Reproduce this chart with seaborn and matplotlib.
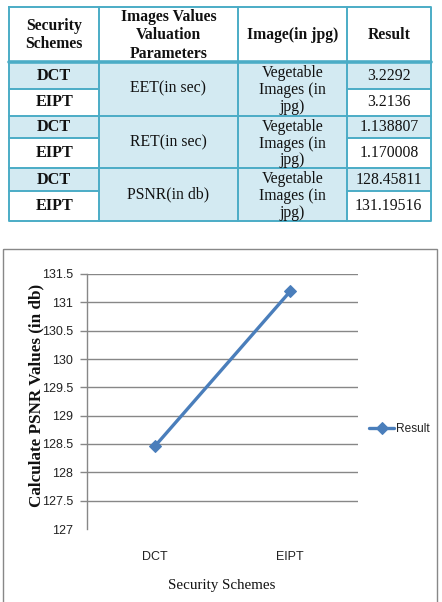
import matplotlib
matplotlib.use("Agg")
import matplotlib.pyplot as plt
from matplotlib.patches import Rectangle
import seaborn as sns
import pandas as pd

# ---------------- data ----------------
schemes = ["DCT", "EIPT"]
params = ["EET(in sec)", "RET(in sec)", "PSNR(in db)"]
image_label = "Vegetable\nImages (in\njpg)"
results = ["3.2292", "3.2136", "1.138807", "1.170008", "128.45811", "131.19516"]
headers = ["Security\nSchemes", "Images Values\nValuation\nParameters", "Image(in jpg)", "Result"]

psnr_values = [128.45811, 131.19516]
y_ticks = [127, 127.5, 128, 128.5, 129, 129.5, 130, 130.5, 131, 131.5]
series_name = "Result"
x_label = "Security Schemes"
y_label = "Calculate PSNR Values (in db)"

# ---------------- style ----------------
sns.set_theme(style="white")
plt.rcParams["font.family"] = ["Liberation Serif", "DejaVu Serif"]
SERIF = ["Liberation Serif", "DejaVu Serif"]
SANS = ["Liberation Sans Narrow", "Liberation Sans", "DejaVu Sans"]

W, H = 442, 602
fig = plt.figure(figsize=(W / 100, H / 100), dpi=100)
fig.patch.set_facecolor("white")

bg = fig.add_axes([0, 0, 1, 1])
bg.set_xlim(0, W)
bg.set_ylim(H, 0)
bg.axis("off")

BORDER = "#4BACC6"
FILL = "#D3EAF2"
TXT = "#111111"
FS = 11.3

xe = [9.3, 99, 238, 347, 430.5]
ye = [7.3, 62, 89.3, 115.7, 137.7, 168.3, 191, 221]

# fills
for r in range(6):
    y0, y1 = ye[r + 1], ye[r + 2]
    first_col_fill = FILL if r % 2 == 0 else "white"
    bg.add_patch(Rectangle((xe[0], y0), xe[1] - xe[0], y1 - y0, facecolor=first_col_fill, edgecolor="none"))
    bg.add_patch(Rectangle((xe[3], y0), xe[4] - xe[3], y1 - y0, facecolor=first_col_fill, edgecolor="none"))
bg.add_patch(Rectangle((xe[1], ye[1]), xe[3] - xe[1], ye[-1] - ye[1], facecolor=FILL, edgecolor="none"))

# grid lines
lw = 1.4
bg.plot([xe[0], xe[4], xe[4], xe[0], xe[0]], [ye[0], ye[0], ye[-1], ye[-1], ye[0]], color=BORDER, lw=lw)
bg.plot([xe[0], xe[4]], [ye[1], ye[1]], color=BORDER, lw=2.6)
for i, y in enumerate(ye[2:-1]):
    if i % 2 == 0:  # DCT/EIPT split: only col1 and col4
        bg.plot([xe[0], xe[1]], [y, y], color=BORDER, lw=lw)
        bg.plot([xe[3], xe[4]], [y, y], color=BORDER, lw=lw)
    else:
        bg.plot([xe[0], xe[4]], [y, y], color=BORDER, lw=lw)
for x in xe[1:4]:
    bg.plot([x, x], [ye[0], ye[-1]], color=BORDER, lw=lw)

# header text
hy = (ye[0] + ye[1]) / 2
for c, h in enumerate(headers):
    bg.text((xe[c] + xe[c + 1]) / 2, hy + 0.5, h, ha="center", va="center", fontsize=FS,
            fontweight="bold", family=SERIF, color=TXT, linespacing=1.2)

# body text
for g in range(3):
    gy0, gy1 = ye[1 + 2 * g], ye[3 + 2 * g]
    gc = (gy0 + gy1) / 2
    bg.text((xe[1] + xe[2]) / 2, gc, params[g], ha="center", va="center", fontsize=FS,
            family=SERIF, color=TXT)
    bg.text((xe[2] + xe[3]) / 2, gc + 1.5, image_label, ha="center", va="center", fontsize=FS,
            family=SERIF, color=TXT, linespacing=1.08)
    for k in range(2):
        r = 2 * g + k
        ry = (ye[r + 1] + ye[r + 2]) / 2
        bg.text((xe[0] + xe[1]) / 2, ry, schemes[k], ha="center", va="center", fontsize=FS + 0.4,
                fontweight="bold", family=SERIF, color=TXT)
        bg.text((xe[3] + xe[4]) / 2, ry, results[r], ha="center", va="center", fontsize=FS,
                family=SERIF, color=TXT)

# chart frame
bg.add_patch(Rectangle((3.3, 249.3), 433.3, 360, facecolor="none", edgecolor="#888888", lw=1.0))

# ---------------- chart ----------------
left, right, top, bottom = 87, 358, 274, 529
ax = fig.add_axes([left / W, (H - bottom) / H, (right - left) / W, (bottom - top) / H])
ax.set_facecolor("none")

df = pd.DataFrame({"scheme": schemes, "value": psnr_values})
LINE = "#4A7EBB"
sns.lineplot(data=df, x="scheme", y="value", ax=ax, color=LINE, lw=2.4, marker="D",
             markersize=6.5, markeredgecolor=LINE, sort=False, label=series_name)

ax.set_xlim(-0.5, 1.5)
ax.set_ylim(y_ticks[0], y_ticks[-1])
ax.set_yticks(y_ticks)
ax.set_yticklabels([("%g" % t) for t in y_ticks])
ax.yaxis.grid(True, color="#878787", lw=1.0)
ax.xaxis.grid(False)
ax.get_ygridlines()[0].set_visible(False)

for s in ["top", "right", "bottom"]:
    ax.spines[s].set_visible(False)
ax.spines["left"].set_color("#878787")
ax.spines["left"].set_linewidth(1.0)

ax.tick_params(axis="y", which="major", left=True, length=5, width=1.0, color="#878787",
               pad=5, labelsize=9, labelcolor="#222222")
ax.yaxis.get_major_ticks()[0].tick1line.set_visible(False)
ax.tick_params(axis="x", bottom=False, length=0, pad=16, labelsize=9, labelcolor="#222222")
for lab in ax.get_xticklabels() + ax.get_yticklabels():
    lab.set_family(SANS)

ax.set_xlabel("")
ax.set_ylabel("")
fig.text(222 / W, 1 - 585 / H, x_label, ha="center", va="center", fontsize=10.8,
         family=SERIF, color=TXT)
fig.text(36 / W, 1 - 395 / H, y_label, ha="center", va="center", rotation=90,
         fontsize=12.3, fontweight="bold", family=SERIF, color=TXT)

leg = ax.legend(loc="center left", bbox_to_anchor=(369 / W, 1 - 429 / H),
                bbox_transform=fig.transFigure, frameon=False, borderpad=0,
                borderaxespad=0, handlelength=2.1, handletextpad=0.2,
                prop={"family": SANS, "size": 8.6})
for t in leg.get_texts():
    t.set_color("#222222")

fig.savefig("out.png", dpi=100, facecolor="white")
